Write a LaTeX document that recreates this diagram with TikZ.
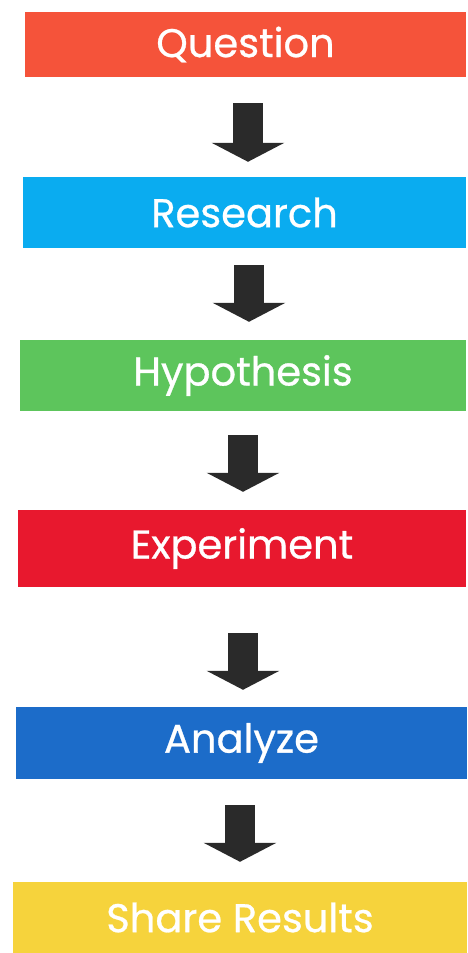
\documentclass[tikz,border=0pt]{standalone}
\usepackage{fontspec}
\setmainfont{Poppins}[UprightFeatures={FakeBold=0.7}]
\usetikzlibrary{arrows.meta}
\definecolor{cQ}{HTML}{F5533A}
\definecolor{cR}{HTML}{0AACF0}
\definecolor{cH}{HTML}{5DC55C}
\definecolor{cE}{HTML}{E8182E}
\definecolor{cA}{HTML}{1C6CC9}
\definecolor{cS}{HTML}{F6D33C}
\definecolor{arrowgray}{HTML}{2A2A2A}
\begin{document}
\begin{tikzpicture}[x=1pt,y=1pt,
  stepbox/.style={draw=none, rectangle, inner sep=0pt, text=white,
    font=\fontsize{40}{44}\selectfont},
  bigarrow/.style={draw=arrowgray, line width=30pt,
    -{Triangle[width=72pt,length=19pt]}}]
\useasboundingbox[fill=white] (0,0) rectangle (468,953);
\node[stepbox, fill=cQ, minimum width=441pt, minimum height=65pt] (q) at (245.5,908.5) {Question};
\node[stepbox, fill=cR, minimum width=443pt, minimum height=71pt] (r) at (244.5,740.5) {Research};
\node[stepbox, fill=cH, minimum width=446pt, minimum height=71pt] (h) at (243,577.5) {Hypothesis};
\node[stepbox, fill=cE, minimum width=448pt, minimum height=77pt] (e) at (242,404.5) {Experiment};
\node[stepbox, fill=cA, minimum width=451pt, minimum height=72pt] (a) at (241.5,210) {Analyze};
\node[stepbox, fill=cS, minimum width=454pt, minimum height=71pt] (s) at (240,35.5) {Share Results};
\draw[bigarrow] ([xshift=2.5pt,yshift=-26pt]q.south) -- ([xshift=3.5pt,yshift=15pt]r.north);
\draw[bigarrow] ([xshift=4.5pt,yshift=-17pt]r.south) -- ([xshift=6pt,yshift=18pt]h.north);
\draw[bigarrow] ([xshift=0pt,yshift=-24pt]h.south) -- ([xshift=1pt,yshift=18pt]e.north);
\draw[bigarrow] ([xshift=1pt,yshift=-46pt]e.south) -- ([xshift=1.5pt,yshift=17pt]a.north);
\draw[bigarrow] ([xshift=-1.5pt,yshift=-26pt]a.south) -- ([xshift=0pt,yshift=20pt]s.north);
\end{tikzpicture}
\end{document}
